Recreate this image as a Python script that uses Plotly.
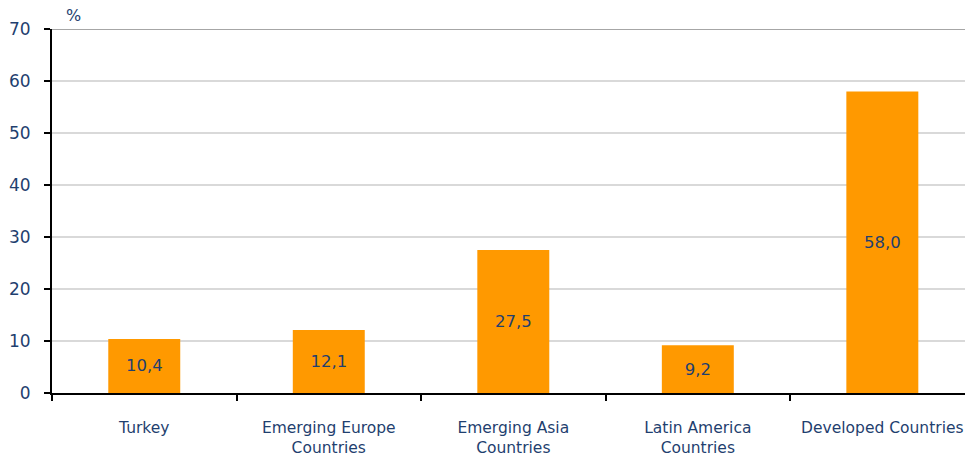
import plotly.graph_objects as go

categories = ["Turkey", "Emerging Europe<br>Countries", "Emerging Asia<br>Countries",
              "Latin America<br>Countries", "Developed Countries"]
values = [10.4, 12.1, 27.5, 9.2, 58.0]
labels = ["10,4", "12,1", "27,5", "9,2", "58,0"]
y_ticks = [0, 10, 20, 30, 40, 50, 60, 70]

navy = "#1F3F6F"
font_family = "DejaVu Sans"

fig = go.Figure()
fig.add_trace(go.Bar(
    x=categories, y=values, text=labels,
    textposition="inside", insidetextanchor="middle",
    textfont=dict(color=navy, size=16.5, family=font_family),
    marker=dict(color="#FF9900", line=dict(width=0)),
    width=0.39, cliponaxis=False,
))

fig.add_shape(type="line", xref="paper", yref="y", x0=0, x1=1, y0=max(y_ticks), y1=max(y_ticks),
              line=dict(color="#A6A6A6", width=2), layer="below")

fig.add_annotation(text="%", xref="paper", yref="paper", x=0.0, y=1.0, xshift=12, yshift=2,
                   showarrow=False, xanchor="left", yanchor="bottom",
                   font=dict(color=navy, size=16, family=font_family))

fig.update_layout(
    width=965, height=459,
    margin=dict(l=52, r=0, t=29, b=66),
    paper_bgcolor="white", plot_bgcolor="white",
    showlegend=False,
    font=dict(family=font_family, color=navy),
    xaxis=dict(
        type="category", range=[-0.5, 4.448],
        tickson="boundaries", ticks="outside", ticklen=6, tickwidth=2, tickcolor="black",
        showline=True, linecolor="black", linewidth=2,
        showgrid=False, tickfont=dict(size=15.5, color=navy, family=font_family),
        ticklabelstandoff=19,
    ),
    yaxis=dict(
        range=[0, 70], tickvals=y_ticks, ticks="outside", ticklen=6, tickwidth=2,
        tickcolor="black", showline=True, linecolor="black", linewidth=2,
        showgrid=True, gridcolor="#D9D9D9", gridwidth=2, zeroline=False,
        tickfont=dict(size=17, color=navy, family=font_family),
        ticklabelstandoff=10,
    ),
    bargap=0.6,
)

fig.write_html("out.html")
